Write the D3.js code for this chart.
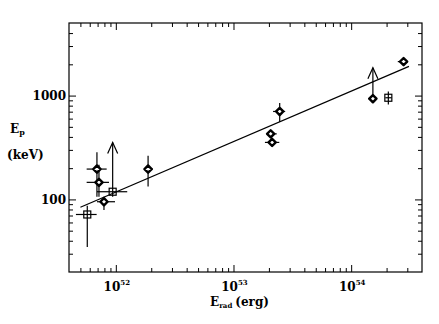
<!DOCTYPE html>
<html>
<head>
<meta charset="utf-8">
<script src="https://cdn.jsdelivr.net/npm/d3@7"></script>
<style>
  html, body { margin: 0; padding: 0; background: #fff; }
  svg { display: block; }
  text { font-family: "DejaVu Serif", "Liberation Serif", serif; fill: #000; }
</style>
</head>
<body>
<svg id="chart" width="439" height="324"></svg>
<script>
// ---- data ----
// Diamond-marker points: Erad (erg), Ep (keV)
const dmE    = [6.91e51, 7.19e51, 7.93e51, 1.88e52, 2.47e53, 2.07e53, 2.13e53, 1.53e54, 2.79e54];
const dmELo  = [5.65e51, 5.65e51, 6.91e51, 1.73e52, 2.17e53, 1.92e53, 1.85e53, 1.39e54, 2.49e54];
const dmEHi  = [8.36e51, 8.75e51, 9.84e51, 2.07e52, 2.75e53, 2.33e53, 2.45e53, 1.65e54, 3.03e54];
const dmEp   = [196, 146, 95, 196, 703, 428, 354, 933, 2124];
const dmEpLo = [106, 106, 79, 133, 556, 394, 323, 933, 1955];
const dmEpHi = [284, 216, 106, 264, 849, 460, 386, 933, 2248];
const dmLimit = [null, null, null, null, null, null, null, 1858, null];

// Square-marker points
const sqE    = [5.72e51, 9.4e51, 2.07e54];
const sqELo  = [4.58e51, 6.91e51, 1.95e54];
const sqEHi  = [6.87e51, 1.25e52, 2.21e54];
const sqEp   = [71.6, 118.6, 953];
const sqEpLo = [34.9, 106, 822];
const sqEpHi = [86.8, 118.6, 1096];
const sqLimit = [null, 353, null];

// Best-fit line endpoints
const fitE  = [5.0e51, 3.1e54];
const fitEp = [84, 1910];

// Axis ticks
const xMajor = [1e52, 1e53, 1e54];
const xMajorExp = ["52", "53", "54"];
const xMinor = [5e51, 6e51, 7e51, 8e51, 9e51,
  2e52, 3e52, 4e52, 5e52, 6e52, 7e52, 8e52, 9e52,
  2e53, 3e53, 4e53, 5e53, 6e53, 7e53, 8e53, 9e53,
  2e54, 3e54];
const yMajor = [100, 1000];
const yMajorLabels = ["100", "1000"];
const yMinor = [30, 40, 50, 60, 70, 80, 90, 200, 300, 400, 500, 600, 700, 800, 900, 2000, 3000, 4000];

// ---- layout ----
const L = 69, R = 422, T = 23, B = 272;
const svg = d3.select("#chart");
const x = d3.scaleLog().domain([4e51, 4e54]).range([L, R]);
const y = d3.scaleLog().domain([20, 5000]).range([B, T]);

// frame
svg.append("rect").attr("x", L).attr("y", T).attr("width", R - L).attr("height", B - T)
  .attr("fill", "none").attr("stroke", "#000").attr("stroke-width", 1.2);

function tickAxis(axisFn, scale, vals, size, transform) {
  const g = svg.append("g").attr("transform", transform)
    .call(axisFn(scale).tickValues(vals).tickSize(size).tickSizeOuter(0).tickFormat(""));
  g.select(".domain").remove();
  g.selectAll("line").attr("stroke", "#000").attr("stroke-width", 1);
  return g;
}
// inward ticks on all sides
tickAxis(d3.axisBottom, x, xMajor, -7, `translate(0,${B})`);
tickAxis(d3.axisBottom, x, xMinor, -4, `translate(0,${B})`);
tickAxis(d3.axisTop, x, xMajor, -7, `translate(0,${T})`);
tickAxis(d3.axisTop, x, xMinor, -4, `translate(0,${T})`);
tickAxis(d3.axisLeft, y, yMajor, -7, `translate(${L},0)`);
tickAxis(d3.axisLeft, y, yMinor, -4, `translate(${L},0)`);
tickAxis(d3.axisRight, y, yMajor, -7, `translate(${R},0)`);
tickAxis(d3.axisRight, y, yMinor, -4, `translate(${R},0)`);

// tick labels
xMajor.forEach((v, i) => {
  const t = svg.append("text").attr("x", x(v) + 1).attr("y", 291)
    .attr("text-anchor", "middle").attr("font-size", 12).attr("font-weight", "bold");
  t.append("tspan").text("10");
  t.append("tspan").attr("font-size", 7).attr("dy", -6).text(xMajorExp[i]);
});
yMajor.forEach((v, i) => {
  svg.append("text").attr("x", 66).attr("y", y(v) + 4.5)
    .attr("text-anchor", "end").attr("font-size", 12).attr("font-weight", "bold")
    .text(yMajorLabels[i]);
});

// axis titles
const xt = svg.append("text").attr("x", 210).attr("y", 306)
  .attr("font-size", 12).attr("font-weight", "bold");
xt.append("tspan").text("E");
xt.append("tspan").attr("font-size", 7).attr("dy", 2).text("rad");
xt.append("tspan").attr("dy", -2).attr("dx", 3).text("(erg)");

const yt = svg.append("text").attr("x", 10).attr("y", 133)
  .attr("font-size", 12).attr("font-weight", "bold");
yt.append("tspan").text("E");
yt.append("tspan").attr("font-size", 8).attr("dy", 2).text("p");
svg.append("text").attr("x", 7).attr("y", 159)
  .attr("font-size", 12).attr("font-weight", "bold").text("(keV)");

// fit line
svg.append("path")
  .attr("d", d3.line().x((d, i) => x(fitE[i])).y((d, i) => y(fitEp[i]))(fitE))
  .attr("fill", "none").attr("stroke", "#000").attr("stroke-width", 1.2);

// error bars, arrows, markers
const eg = svg.append("g").attr("stroke", "#000").attr("stroke-width", 1.2).attr("fill", "none");
function drawSet(E, ELo, EHi, Ep, EpLo, EpHi, lim) {
  E.forEach((e, i) => {
    eg.append("line").attr("x1", x(ELo[i])).attr("x2", x(EHi[i]))
      .attr("y1", y(Ep[i])).attr("y2", y(Ep[i]));
    if (EpLo[i] !== EpHi[i]) {
      eg.append("line").attr("x1", x(e)).attr("x2", x(e))
        .attr("y1", y(EpLo[i])).attr("y2", y(EpHi[i]));
    }
    if (lim[i] !== null) {
      const cx = x(e), ty = y(lim[i]);
      eg.append("line").attr("x1", cx).attr("x2", cx).attr("y1", y(Ep[i])).attr("y2", ty);
      eg.append("path").attr("d", `M${cx - 5},${ty + 11}L${cx},${ty}L${cx + 5},${ty + 11}`);
    }
  });
}
drawSet(dmE, dmELo, dmEHi, dmEp, dmEpLo, dmEpHi, dmLimit);
drawSet(sqE, sqELo, sqEHi, sqEp, sqEpLo, sqEpHi, sqLimit);

svg.append("g").selectAll("path").data(dmE).join("path")
  .attr("transform", (d, i) => `translate(${x(d)},${y(dmEp[i])})`)
  .attr("d", "M0,-3.6L3.6,0L0,3.6L-3.6,0Z")
  .attr("fill", "#fff").attr("stroke", "#000").attr("stroke-width", 2.4)
  .attr("stroke-linejoin", "round");

svg.append("g").selectAll("rect").data(sqE).join("rect")
  .attr("x", d => x(d) - 3.5).attr("y", (d, i) => y(sqEp[i]) - 3.5)
  .attr("width", 7).attr("height", 7)
  .attr("fill", "none").attr("stroke", "#000").attr("stroke-width", 1.2);
</script>
</body>
</html>
